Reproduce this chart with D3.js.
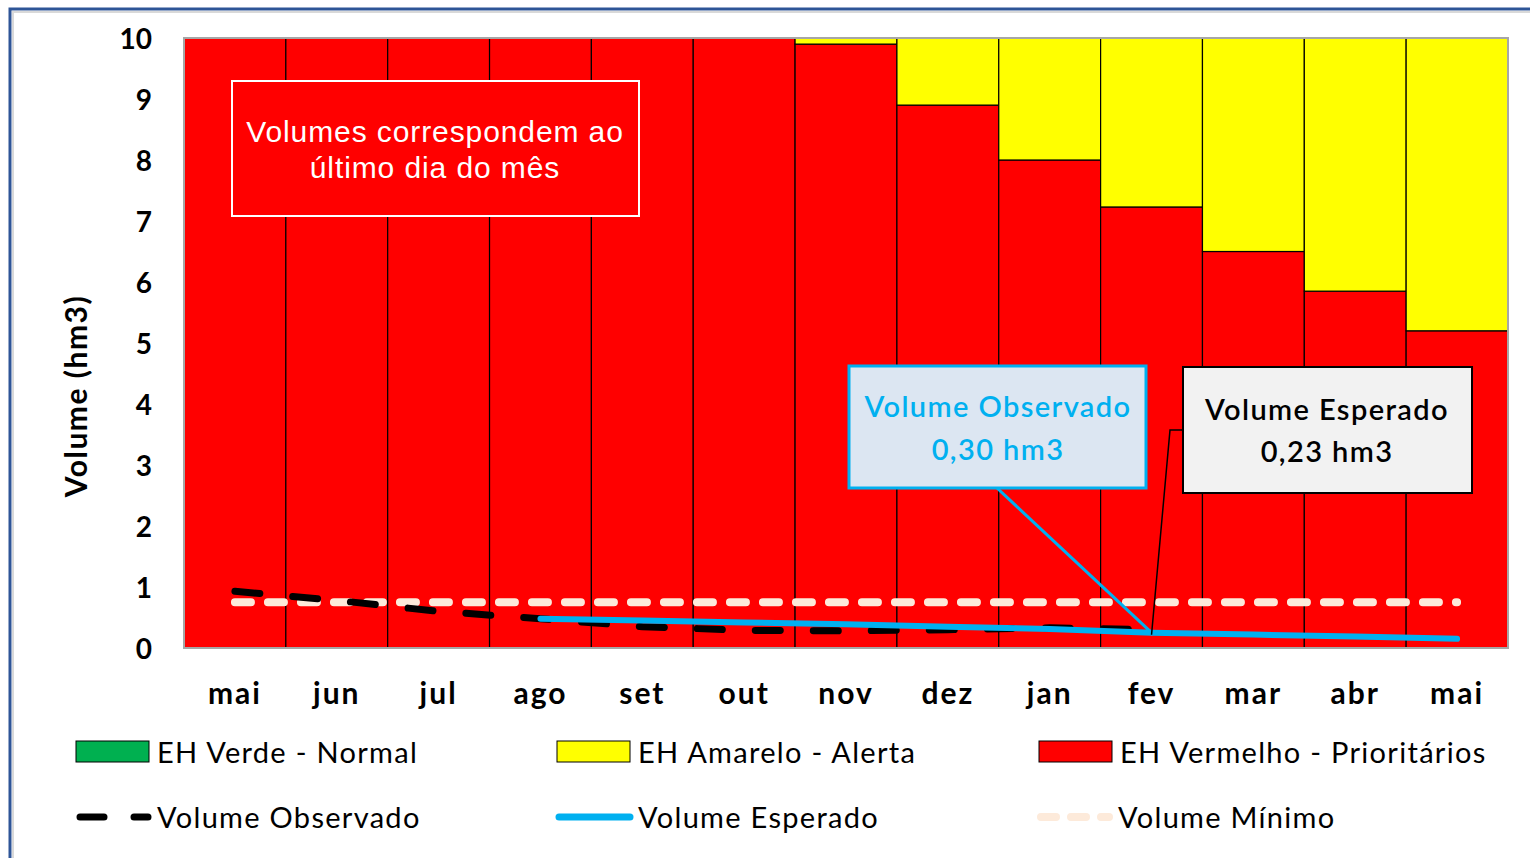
<!DOCTYPE html>
<html>
<head>
<meta charset="utf-8">
<script src="https://cdn.jsdelivr.net/npm/d3@7"></script>
<style>
  body { margin: 0; background: #fff; }
  svg { display: block; font-family: Lato, "Open Sans", sans-serif; }
</style>
</head>
<body>
<svg id="chart" width="1530" height="858"></svg>
<script>
// months (last day of each month)
const months = ["mai", "jun", "jul", "ago", "set", "out", "nov", "dez", "jan", "fev", "mar", "abr", "mai"];

// stacked hydrologic stages (hm3)
const verde    = [0, 0, 0, 0, 0, 0, 0, 0, 0, 0, 0, 0, 0];
const vermelho = [10, 10, 10, 10, 10, 10, 9.9, 8.9, 8.0, 7.23, 6.5, 5.85, 5.2];
const amarelo  = [0, 0, 0, 0, 0, 0, 0.1, 1.1, 2.0, 2.77, 3.5, 4.15, 4.8];

const observado = [0.93, 0.78, 0.6, 0.48, 0.35, 0.29, 0.28, 0.3, 0.33, 0.3, null, null, null];
const esperado  = [null, null, null, 0.48, 0.45, 0.42, 0.39, 0.35, 0.31, 0.25, 0.22, 0.19, 0.15];
const minimo    = [0.75, 0.75, 0.75, 0.75, 0.75, 0.75, 0.75, 0.75, 0.75, 0.75, 0.75, 0.75, 0.75];

const yTicks = [0, 1, 2, 3, 4, 5, 6, 7, 8, 9, 10];

const svg = d3.select("#chart");
const plot = {left: 184, right: 1508, top: 38, bottom: 648};

// outer frame
svg.append("rect").attr("x", 13).attr("y", 12).attr("width", 1530).attr("height", 900)
    .attr("fill", "none").attr("stroke", "#d9d9d9").attr("stroke-width", 2);
svg.append("path").attr("d", "M10,900 V9 H1540")
    .attr("fill", "none").attr("stroke", "#2e5597").attr("stroke-width", 3);

let x = d3.scaleBand().domain(d3.range(months.length)).range([plot.left, plot.right]).padding(0);
let y = d3.scaleLinear().domain([0, 10]).range([plot.bottom, plot.top]);
let cx = i => x(i) + x.bandwidth() / 2;

// stacked bars
let rows = months.map((m, i) => ({i: i, verde: verde[i], vermelho: vermelho[i], amarelo: amarelo[i]}));
let series = d3.stack().keys(["verde", "vermelho", "amarelo"])(rows);
let colors = {verde: "#00b050", vermelho: "#ff0000", amarelo: "#ffff00"};

svg.append("g").selectAll("g").data(series).join("g")
    .attr("fill", d => colors[d.key])
    .selectAll("rect").data(d => d.filter(p => p[1] - p[0] > 0)).join("rect")
    .attr("x", d => x(d.data.i))
    .attr("y", d => y(d[1]))
    .attr("width", x.bandwidth())
    .attr("height", d => y(d[0]) - y(d[1]))
    .attr("stroke", "black")
    .attr("stroke-width", 1.2);

// plot border
svg.append("rect").attr("x", plot.left).attr("y", plot.top)
    .attr("width", plot.right - plot.left).attr("height", plot.bottom - plot.top)
    .attr("fill", "none").attr("stroke", "#a6a6a6").attr("stroke-width", 2);

// y axis
let yAxis = svg.append("g").attr("transform", `translate(${plot.left},0)`)
    .call(d3.axisLeft(y).tickValues(yTicks).tickSize(0).tickPadding(32));
yAxis.select(".domain").remove();
yAxis.selectAll("text").attr("font-family", "Lato").attr("font-size", 28)
    .attr("font-weight", "bold").attr("fill", "#000").attr("dy", "0.38em");

svg.append("text")
    .attr("transform", "translate(87,396) rotate(-90)")
    .attr("text-anchor", "middle")
    .attr("font-size", 30).attr("font-weight", "bold").attr("letter-spacing", 1.5)
    .text("Volume (hm3)");

// x labels
let xAxis = svg.append("g").attr("transform", `translate(0,${plot.bottom})`)
    .call(d3.axisBottom(x).tickFormat(i => months[i]).tickSize(0).tickPadding(35));
xAxis.select(".domain").remove();
xAxis.selectAll("text").attr("font-family", "Lato").attr("font-size", 30)
    .attr("font-weight", "bold").attr("fill", "#000").attr("letter-spacing", 2);

// lines
let lineGen = d3.line().defined(d => d.v != null).x(d => cx(d.i)).y(d => y(d.v));
let toPts = arr => arr.map((v, i) => ({i: i, v: v}));

svg.append("path").datum(toPts(minimo)).attr("d", lineGen)
    .attr("fill", "none").attr("stroke", "#fdeada").attr("stroke-width", 8)
    .attr("stroke-dasharray", "16,17").attr("stroke-linecap", "round");

svg.append("path").datum(toPts(observado)).attr("d", lineGen)
    .attr("fill", "none").attr("stroke", "#000").attr("stroke-width", 7)
    .attr("stroke-dasharray", "25,33").attr("stroke-linecap", "round");

svg.append("path").datum(toPts(esperado)).attr("d", lineGen)
    .attr("fill", "none").attr("stroke", "#00b0f0").attr("stroke-width", 6)
    .attr("stroke-linecap", "round");

// note box
let note = svg.append("g");
note.append("rect").attr("x", 232).attr("y", 81).attr("width", 407).attr("height", 135)
    .attr("fill", "#ff0000").attr("stroke", "#fff").attr("stroke-width", 2);
note.append("text").attr("x", 435).attr("y", 142).attr("text-anchor", "middle")
    .attr("font-family", "Liberation Sans, Arial").attr("font-size", 30).attr("fill", "#fff")
    .attr("letter-spacing", 0.9).text("Volumes correspondem ao");
note.append("text").attr("x", 435).attr("y", 178).attr("text-anchor", "middle")
    .attr("font-family", "Liberation Sans, Arial").attr("font-size", 30).attr("fill", "#fff")
    .attr("letter-spacing", 0.9).text("último dia do mês");

// callouts
let iFev = 9;
let obsPt = [cx(iFev), y(observado[iFev]) + 3];
let espPt = [cx(iFev), y(esperado[iFev]) + 2];

svg.append("path").attr("d", `M997,488 L${obsPt[0]},${obsPt[1]}`)
    .attr("stroke", "#00b0f0").attr("stroke-width", 3).attr("fill", "none");
svg.append("path").attr("d", `M1183,430 H1170 L${espPt[0]},${espPt[1]}`)
    .attr("stroke", "#000").attr("stroke-width", 1.5).attr("fill", "none");

let cObs = svg.append("g");
cObs.append("rect").attr("x", 849).attr("y", 366).attr("width", 297).attr("height", 122)
    .attr("fill", "#dce6f2").attr("stroke", "#00b0f0").attr("stroke-width", 3);
cObs.append("text").attr("x", 998).attr("y", 417).attr("text-anchor", "middle")
    .attr("font-size", 29).attr("font-weight", 600).attr("letter-spacing", 1.4)
    .attr("fill", "#00b0f0").text("Volume Observado");
cObs.append("text").attr("x", 998).attr("y", 460).attr("text-anchor", "middle")
    .attr("font-size", 29).attr("font-weight", 600).attr("letter-spacing", 1.4)
    .attr("fill", "#00b0f0").text("0,30 hm3");

let cEsp = svg.append("g");
cEsp.append("rect").attr("x", 1183).attr("y", 367).attr("width", 289).attr("height", 126)
    .attr("fill", "#f2f2f2").attr("stroke", "#000").attr("stroke-width", 2);
cEsp.append("text").attr("x", 1327).attr("y", 420).attr("text-anchor", "middle")
    .attr("font-size", 29).attr("font-weight", 600).attr("letter-spacing", 1.4)
    .attr("fill", "#000").text("Volume Esperado");
cEsp.append("text").attr("x", 1327).attr("y", 462).attr("text-anchor", "middle")
    .attr("font-size", 29).attr("font-weight", 600).attr("letter-spacing", 1.4)
    .attr("fill", "#000").text("0,23 hm3");

// legend
let legendItems = [
    {label: "EH Verde - Normal", kind: "rect", color: "#00b050", x: 76, y: 752},
    {label: "EH Amarelo - Alerta", kind: "rect", color: "#ffff00", x: 557, y: 752},
    {label: "EH Vermelho - Prioritários", kind: "rect", color: "#ff0000", x: 1039, y: 752},
    {label: "Volume Observado", kind: "dash", color: "#000", x: 76, y: 817},
    {label: "Volume Esperado", kind: "line", color: "#00b0f0", x: 557, y: 817},
    {label: "Volume Mínimo", kind: "min", color: "#fdeada", x: 1037, y: 817}
];

let lg = svg.append("g").selectAll("g").data(legendItems).join("g")
    .attr("transform", d => `translate(${d.x},${d.y})`);

lg.filter(d => d.kind === "rect").append("rect")
    .attr("x", 0).attr("y", -11).attr("width", 73).attr("height", 21)
    .attr("fill", d => d.color).attr("stroke", "#000").attr("stroke-width", 1);
lg.filter(d => d.kind === "dash").append("path").attr("d", "M4,0 H72")
    .attr("stroke", "#000").attr("stroke-width", 7).attr("stroke-linecap", "round")
    .attr("stroke-dasharray", "24,30");
lg.filter(d => d.kind === "line").append("path").attr("d", "M2,0 H73")
    .attr("stroke", "#00b0f0").attr("stroke-width", 7).attr("stroke-linecap", "round");
lg.filter(d => d.kind === "min").append("path").attr("d", "M4,0 H72")
    .attr("stroke", "#fdeada").attr("stroke-width", 8).attr("stroke-linecap", "round")
    .attr("stroke-dasharray", "15,15");

lg.append("text").attr("x", 81).attr("y", 11)
    .attr("font-size", 29).attr("letter-spacing", 1.3).attr("fill", "#000").text(d => d.label);
</script>
</body>
</html>
